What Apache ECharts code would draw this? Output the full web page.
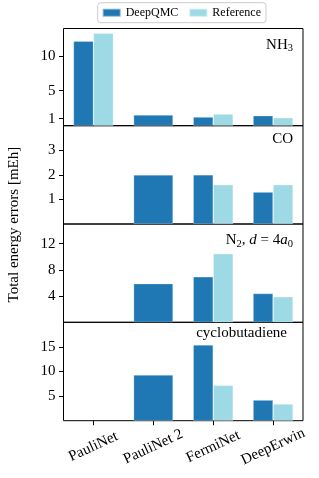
<!DOCTYPE html>
<html><head><meta charset="utf-8">
<script src="https://cdn.jsdelivr.net/npm/echarts@6/dist/echarts.min.js"></script>
<style>html,body{margin:0;padding:0;background:#fff}#c{width:319px;height:478px}</style>
</head><body><div id="c"></div>
<script>
const categories = ['PauliNet', 'PauliNet 2', 'FermiNet', 'DeepErwin'];
const seriesNames = ['DeepQMC', 'Reference'];
// NH3
const nh3DeepQMC = [12.1, 1.53, 1.24, 1.43];
const nh3Reference = [13.24, null, 1.67, 1.14];
const nh3Ticks = [1, 5, 10];
// CO
const coDeepQMC = [null, 2.0, 2.0, 1.3];
const coReference = [null, null, 1.6, 1.6];
const coTicks = [1, 2, 3];
// N2, d = 4a0
const n2DeepQMC = [null, 5.9, 6.95, 4.4];
const n2Reference = [null, null, 10.45, 3.9];
const n2Ticks = [4, 8, 12];
// cyclobutadiene
const cbDeepQMC = [null, 9.3, 15.4, 4.2];
const cbReference = [null, null, 7.2, 3.4];
const cbTicks = [5, 10, 15];

const colDQ = '#1f77b4', colRef = '#9edae5';
const FONT = 'Liberation Serif';
const FS = 15;
const panels = [
  {dq: nh3DeepQMC, ref: nh3Reference, ticks: nh3Ticks, max: 13.9, top: 28.5, bottom: 125.7},
  {dq: coDeepQMC, ref: coReference, ticks: coTicks, max: 4, top: 125.7, bottom: 224},
  {dq: n2DeepQMC, ref: n2Reference, ticks: n2Ticks, max: 15, top: 224, bottom: 322.3},
  {dq: cbDeepQMC, ref: cbReference, ticks: cbTicks, max: 20, top: 322.3, bottom: 420.7}
];
const W = 319;
const grid = [], xAxis = [], yAxis = [], series = [];
panels.forEach((p, i) => {
  grid.push({left: 63.5, right: W - 303, top: p.top, height: p.bottom - p.top,
    show: true, borderColor: '#000', borderWidth: 1, backgroundColor: 'transparent'});
  const last = i === panels.length - 1;
  xAxis.push({type: 'category', gridIndex: i, data: categories,
    axisLine: {show: false},
    axisTick: {show: last, alignWithLabel: true, length: 4.5, lineStyle: {color: '#000'}},
    axisLabel: {show: last, rotate: 25, align: 'center', verticalAlign: 'middle', margin: 26,
      fontFamily: FONT, fontSize: FS, color: '#000'}});
  xAxis.push({type: 'category', gridIndex: i, data: categories, show: false});
  yAxis.push({type: 'value', gridIndex: i, min: 0, max: p.max, splitLine: {show: false},
    axisLine: {show: false},
    axisTick: {show: true, length: 4.5, customValues: p.ticks, lineStyle: {color: '#000'}},
    axisLabel: {customValues: p.ticks, fontFamily: FONT, fontSize: FS, color: '#000', margin: 8}});
  const grouped = p.dq.map((v, k) => p.ref[k] == null ? null : v);
  const single = p.dq.map((v, k) => p.ref[k] == null ? v : null);
  const bs = {borderColor: 'rgba(255,255,255,0.45)', borderWidth: 0.6};
  series.push({name: seriesNames[0], type: 'bar', xAxisIndex: 2 * i, yAxisIndex: i, data: grouped,
    barWidth: 20, barGap: '0%', itemStyle: Object.assign({color: colDQ}, bs), silent: true});
  series.push({name: seriesNames[1], type: 'bar', xAxisIndex: 2 * i, yAxisIndex: i, data: p.ref,
    barWidth: 20, barGap: '0%', itemStyle: Object.assign({color: colRef}, bs), silent: true});
  series.push({name: seriesNames[0], type: 'bar', xAxisIndex: 2 * i + 1, yAxisIndex: i, data: single,
    barWidth: 39.5, itemStyle: Object.assign({color: colDQ}, bs), silent: true});
});

const chart = echarts.init(document.getElementById('c'), null, {renderer: 'canvas'});
const txt = {fontFamily: FONT, fontSize: FS, fill: '#000'};
const sub = {fontFamily: FONT, fontSize: 10.5, padding: [7, 0, 0, 0]};
chart.setOption({
  animation: false,
  legend: {data: seriesNames, left: 97.7, top: 2.7, itemWidth: 18, itemHeight: 8, itemGap: 10,
    padding: [4, 5, 4, 4], borderColor: '#ccc', borderWidth: 1, borderRadius: 3,
    textStyle: {fontFamily: FONT, fontSize: 12, color: '#000'}, icon: 'rect'},
  grid, xAxis, yAxis, series,
  graphic: [
    {type: 'text', x: 293, y: 45, style: Object.assign({}, txt, {
      text: 'NH{s|3}', align: 'right', verticalAlign: 'middle', rich: {s: sub}})},
    {type: 'text', x: 293, y: 139, style: Object.assign({}, txt, {text: 'CO', align: 'right', verticalAlign: 'middle'})},
    {type: 'text', x: 293, y: 240.5, style: Object.assign({}, txt, {
      text: 'N{s|2}, {i|d} = 4{i|a}{s|0}', align: 'right', verticalAlign: 'middle',
      rich: {s: sub, i: {fontFamily: FONT, fontSize: FS, fontStyle: 'italic'}}})},
    {type: 'text', x: 287, y: 333, style: Object.assign({}, txt, {text: 'cyclobutadiene', align: 'right', verticalAlign: 'middle'})},
    {type: 'text', x: 14, y: 224.6, rotation: Math.PI / 2, style: Object.assign({}, txt, {
      text: 'Total energy errors [mEh]', align: 'center', verticalAlign: 'middle'})}
  ]
});
</script></body></html>
